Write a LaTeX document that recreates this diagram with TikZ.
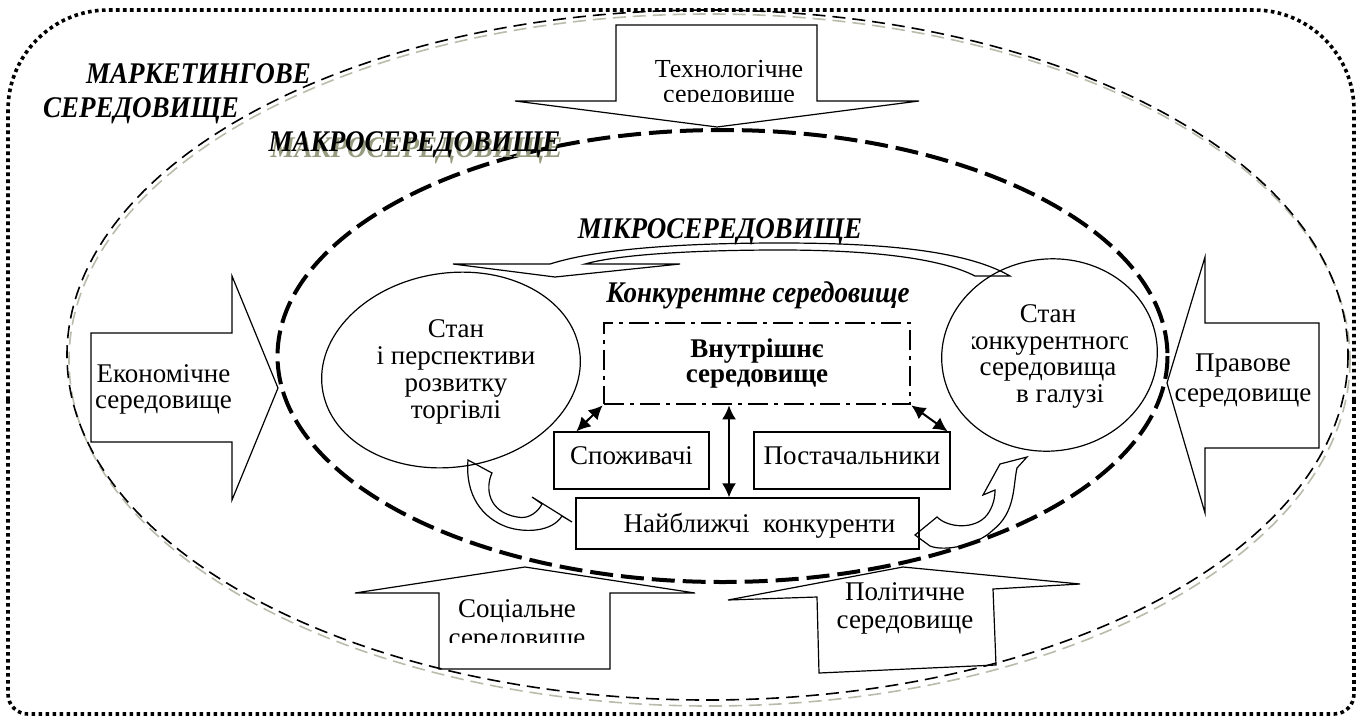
\documentclass[tikz,border=0pt]{standalone}
\usepackage{fontspec}
\setmainfont{Liberation Serif}
\usetikzlibrary{arrows.meta,calc}
\newlength\px
\setlength\px{0.5pt}
\definecolor{shadowgrey}{RGB}{184,188,170}
\definecolor{textshadow}{RGB}{150,156,128}
\newcommand\narrow[1]{\scalebox{0.9}[1]{#1}}
\tikzset{
  frame/.style={line width=1.8pt, dash pattern=on 1.8pt off 1.7pt},
  market/.style={line width=0.8pt, dash pattern=on 6.5pt off 3.5pt},
  marketshade/.style={market, draw=shadowgrey},
  macro/.style={line width=2pt, dash pattern=on 11.5pt off 4pt},
  blockarrow/.style={line width=0.6pt, line join=miter},
  bendarrow/.style={line width=0.6pt},
  oval/.style={line width=0.6pt},
  txt/.style={font=\fontsize{13.5}{13.5}\selectfont, align=center, inner sep=0pt},
  zone/.style={font=\fontsize{15}{15}\selectfont\bfseries\itshape, inner sep=0pt},
  box/.style={draw, line width=0.6pt, inner sep=0pt, font=\fontsize{13.5}{13.5}\selectfont, text height=9pt, text depth=5pt},
  vnbox/.style={draw, line width=1.3pt, dash pattern=on 10pt off 3pt on 2pt off 3pt, inner sep=0pt, align=center, font=\fontsize{13.5}{12.5}\selectfont\bfseries},
  link/.style={line width=1pt, {Latex[length=7pt,width=7pt]}-{Latex[length=7pt,width=7pt]}},
}
\begin{document}
\begin{tikzpicture}[x=0.5pt, y=-0.5pt]
\useasboundingbox (0,0) rectangle (1360,724);

% dotted frame
\draw[frame, rounded corners=50pt] (8,400) -- (8,10) -- (1354,10) -- (1354,400);
\draw[frame, rounded corners=10pt] (8,400) -- (8,714) -- (1354,714) -- (1354,400);

% marketing, macro ellipses
\draw[marketshade] (709.5,360) ellipse [x radius=640.5, y radius=346];
\draw[market] (707.5,355) ellipse [x radius=640.5, y radius=345];
\draw[macro] (722.5,356) ellipse [x radius=445, y radius=226];

% block arrows
\draw[blockarrow] (616,25) -- (817,25) -- (817,101) -- (919,101) -- (717,127) -- (515,101) -- (616,101) -- cycle;
\draw[blockarrow] (91,333) -- (232,333) -- (232,276) -- (278,388) -- (232,500) -- (232,442) -- (91,442) -- cycle;
\draw[blockarrow] (1319,323) -- (1205,323) -- (1205,257) -- (1167,383) -- (1205,513) -- (1205,448) -- (1319,448) -- cycle;
\draw[blockarrow] (439,669) -- (439,593) -- (355,593) -- (525,567) -- (695,593) -- (610,593) -- (610,669) -- cycle;
\draw[blockarrow] (819,673) -- (817,597) -- (728,600) -- (903,567) -- (1080,584) -- (993,589) -- (996,665) -- cycle;

% block arrow texts
\begin{scope}
\clip (616,25) rectangle (817,101);
\node[txt, font=\fontsize{13}{12.5}\selectfont] (tech) at (729,84.5) {Технологічне\\середовище};
\end{scope}
\node[txt, font=\fontsize{13.5}{13}\selectfont] (econ) at (163.5,389) {Економічне\\середовище};
\node[txt, font=\fontsize{13.5}{15}\selectfont] (pravo) at (1243,381) {Правове\\середовище};
\begin{scope}
\clip (439,593) rectangle (610,642);
\node[txt, font=\fontsize{13.5}{14.5}\selectfont] (soc) at (517,625.5) {Соціальне\\середовище};
\end{scope}
\node[txt, font=\fontsize{13.5}{14}\selectfont] (polit) at (905,608) {Політичне\\середовище};

% ovals
\draw[oval, rotate around={8.6:(451,370)}] (451,370) ellipse [x radius=130, y radius=97];
\draw[oval, rotate around={7.2:(1049.5,355)}] (1049.5,355) ellipse [x radius=108, y radius=96];
\node[txt] (trade) at (456,371.5) {Стан\\і перспективи\\розвитку\\торгівлі};
\begin{scope}
\clip (972,250) rectangle (1127,460);
\node[txt, font=\fontsize{13.5}{13.3}\selectfont] (state) at (1048,356.5) {Стан\\конкурентного\\середовища\\\hspace*{0.9em}в галузі};
\end{scope}

% curved arrows
\draw[bendarrow] (453,264) -- (550,264) .. controls (600,248) and (690,243) .. (780,243) .. controls (880,243) and (965,250) .. (1010,276) -- (975,276) .. controls (940,258) and (870,250) .. (780,250) .. controls (700,250) and (620,254) .. (585,264) -- (680,264) -- (555,277) -- cycle;
\draw[bendarrow] (468,460) -- (492,473) .. controls (485,488) and (488,512) .. (517,517) .. controls (530,520) and (539,510) .. (542,504) -- (532,497) -- (572,522) -- (562,516) .. controls (552,532) and (525,533) .. (507,527) .. controls (482,518) and (465,495) .. (468,460) -- cycle;
\draw[bendarrow] (915,535) -- (937,517) .. controls (948,528) and (975,530) .. (987,515) .. controls (993,507) and (995,498) .. (995,490) -- (983,495) -- (1000,464) -- (1027,457) -- (1017,468) .. controls (1013,485) and (1016,512) .. (993,530) .. controls (978,545) and (945,552) .. (930,546) -- cycle;

% zone labels
\node[zone, anchor=base] (mark1) at (198.5,83) {\narrow{МАРКЕТИНГОВЕ}};
\node[zone, anchor=base] (mark2) at (141,117) {\narrow{СЕРЕДОВИЩЕ}};
\node[zone, anchor=base, text=textshadow] (macroshade) at (416.5,157) {\narrow{МАКРОСЕРЕДОВИЩЕ}};
\node[zone, anchor=base] (macrolbl) at (414.5,151) {\narrow{МАКРОСЕРЕДОВИЩЕ}};
\node[zone, anchor=base] (micro) at (720,238) {\narrow{МІКРОСЕРЕДОВИЩЕ}};
\node[zone, anchor=base] (konk) at (758,302) {\narrow{Конкурентне середовище}};

% inner boxes
\node[vnbox, minimum width=306\px, minimum height=81\px] (vn) at (757,363.5) {Внутрішнє\\середовище};
\node[box, minimum width=155\px, minimum height=57\px] (spoz) at (631.5,460.5) {Споживачі};
\node[box, minimum width=196\px, minimum height=57\px] (post) at (852,460.5) {Постачальники};
\node[box, text depth=0pt, minimum width=343\px, minimum height=51\px] (naib) at (747.5,523.5) {\hspace*{24\px}Найближчі\ \ конкуренти};

% links
\coordinate (mid) at (729,0);
\draw[link] (vn.south -| mid) -- (naib.north -| mid);
\draw[link] (vn.south west) -- ($(spoz.north west)+(23,0)$);
\draw[link] (vn.south east) -- ($(post.north east)+(-3,0)$);
\end{tikzpicture}
\end{document}
